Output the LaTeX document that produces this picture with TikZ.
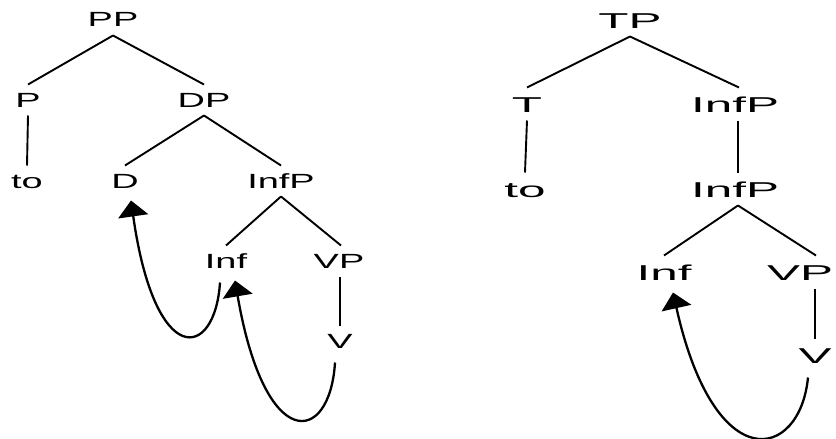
\documentclass[tikz,border=0pt]{standalone}
\usepackage{fontspec}
\setmainfont{Liberation Sans}
\newfontfamily\leftfont{Liberation Sans}[FakeStretch=1.85]
\newfontfamily\rightfont{Liberation Sans}[FakeStretch=2.3]
\usetikzlibrary{arrows.meta,calc}
\begin{document}
\begin{tikzpicture}[x=1pt,y=-1pt,
  lbl/.style={inner sep=0pt, text depth=0pt, anchor=base, outer ysep=8.5pt},
  ltree/.style={lbl, text height=14pt, font=\leftfont\fontsize{20.5}{20.5}\selectfont},
  rtree/.style={lbl, text height=16pt, font=\rightfont\fontsize{21.5}{21.5}\selectfont},
  edge/.style={line width=1.9pt},
  move/.style={line width=2.3pt, -{Triangle[width=30pt,length=16pt]}}]
\useasboundingbox (0,0) rectangle (836,439);
% left tree
\node[ltree] (PP) at (113,27) {PP};
\node[ltree] (P) at (28,107) {P};
\node[ltree] (DP) at (204,107) {DP};
\node[ltree] (to1) at (27,188) {to};
\node[ltree] (D) at (125,188) {D};
\node[ltree] (InfP1) at (281,188) {InfP};
\node[ltree] (Inf1) at (226,268) {Inf};
\node[ltree] (VP1) at (339,268) {VP};
\node[ltree] (V1) at (340,348) {V};
\draw[edge] (PP.south) -- (P.north);
\draw[edge] (PP.south) -- (DP.north);
\draw[edge] (P.south) -- (to1.north);
\draw[edge] (DP.south) -- (D.north);
\draw[edge] (DP.south) -- (InfP1.north);
\draw[edge] (InfP1.south) -- (Inf1.north);
\draw[edge] (InfP1.south) -- ($(VP1.north)+(2,0)$);
\draw[edge] ($(VP1.south)+(1,0)$) -- (V1.north);
\draw[move] ($(Inf1.south)+(-6,6)$) .. controls (215,360) and (155,370) .. ($(D.south)+(6,4)$);
\draw[move] ($(V1.south)+(-5,6)$) .. controls (330,445) and (265,455) .. ($(Inf1.south)+(9,4)$);
% right tree
\node[rtree] (TP) at (630,28) {TP};
\node[rtree] (T) at (527,112) {T};
\node[rtree] (InfP2) at (735,112) {InfP};
\node[rtree] (to2) at (525,197) {to};
\node[rtree] (InfP3) at (735,197) {InfP};
\node[rtree] (Inf2) at (664,280) {Inf};
\node[rtree] (VP2) at (800,280) {VP};
\node[rtree] (V2) at (815,363) {V};
\draw[edge] (TP.south) -- ($(InfP2.north)+(4,0)$);
\draw[edge] (TP.south) -- (T.north);
\draw[edge] (T.south) -- (to2.north);
\draw[edge] ($(InfP2.south)+(3,0)$) -- ($(InfP3.north)+(3,0)$);
\draw[edge] ($(InfP3.south)+(3,0)$) -- (Inf2.north);
\draw[edge] ($(InfP3.south)+(3,0)$) -- ($(VP2.north)+(16,0)$);
\draw[edge] ($(VP2.south)+(15,0)$) -- (V2.north);
\draw[move] ($(V2.south)+(-7,6)$) .. controls (800,460) and (715,480) .. ($(Inf2.south)+(9,4)$);
\end{tikzpicture}
\end{document}
